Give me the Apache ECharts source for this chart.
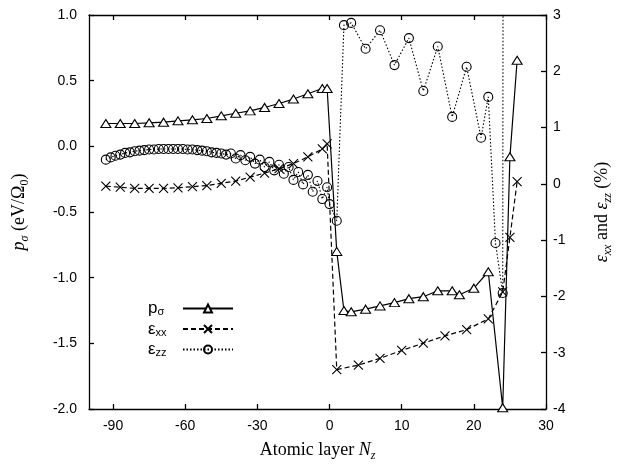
<!DOCTYPE html>
<html><head><meta charset="utf-8">
<script src="https://cdn.jsdelivr.net/npm/echarts@6/dist/echarts.min.js"></script>
<style>html,body{margin:0;padding:0;background:#fff}#c{width:623px;height:472px}</style>
</head><body><div id="c"></div>
<script>
// ---- data (atomic layer index, values) ----
const xTickLabels = [-90, -60, -30, 0, 10, 20, 30];

const pLayers = [-93,-87,-81,-75,-69,-63,-57,-51,-45,-39,-33,-27,-21,-15,-9,-3,-1,
                 1,2,3,5,7,9,11,13,15,17,18,20,22,24,25,26];
const pVals   = [0.174,0.174,0.174,0.179,0.184,0.194,0.202,0.212,0.232,0.252,0.27,0.296,0.326,0.36,0.40,0.44,0.44,
                 -0.80,-1.25,-1.26,-1.24,-1.215,-1.19,-1.16,-1.145,-1.10,-1.10,-1.13,-1.08,-0.955,-1.99,-0.08,0.655];

const xxLayers = [-93,-87,-81,-75,-69,-63,-57,-51,-45,-39,-33,-27,-21,-15,-9,-3,-1,
                  1,4,7,10,13,16,19,22,24,25,26];
const xxVals   = [-0.04,-0.06,-0.08,-0.08,-0.08,-0.07,-0.05,-0.03,0.01,0.05,0.12,0.19,0.27,0.36,0.48,0.62,0.71,
                  -3.30,-3.22,-3.10,-2.96,-2.83,-2.70,-2.59,-2.40,-1.92,-0.95,0.04];

const zzLayers = [-93,-91,-89,-87,-85,-83,-81,-79,-77,-75,-73,-71,-69,-67,-65,-63,-61,-59,-57,-55,-53,-51,-49,-47,
                  -45,-43,-41,-39,-37,-35,-33,-31,-29,-27,-25,-23,-21,-19,-17,-15,-13,-11,-9,-7,-5,-3,-1,0,
                  1,2,3,5,7,9,11,13,15,17,19,21,22,23,24,24.1];
const zzVals   = [0.43,0.47,0.50,0.52,0.55,0.56,0.58,0.59,0.60,0.61,0.61,0.62,0.62,0.62,0.62,0.62,0.62,0.61,0.61,0.60,0.59,0.58,0.56,0.55,
                  0.54,0.52,0.54,0.45,0.51,0.42,0.48,0.36,0.43,0.30,0.39,0.24,0.34,0.18,0.30,0.07,0.21,-0.01,0.16,-0.14,0.05,-0.27,-0.06,-0.36,
                  -0.655,2.82,2.86,2.40,2.73,2.11,2.59,1.65,2.44,1.19,2.08,0.82,1.545,-1.05,-1.94,10];

// broken x-scale: negative side compressed by 3
const toAxis = x => (x < 0 ? x / 3 : x);
const fromAxis = u => (u < 0 ? u * 3 : u);
const tickPos = xTickLabels.map(toAxis);

const pair = (ls, vs) => ls.map((l, i) => [toAxis(l), vs[i]]);

const chart = echarts.init(document.getElementById('c'), null, {renderer: 'canvas'});
const sans = 'Liberation Sans';
const serif = 'Liberation Serif';
const axisLineStyle = {color: '#000', width: 1.3};
const crossPath = 'path://M0,0L10,10M0,10L10,0';

const nameRich = {
  n: {fontFamily: serif, fontSize: 18, color: '#000', verticalAlign: 'middle', lineHeight: 23},
  i: {fontFamily: serif, fontSize: 18, fontStyle: 'italic', color: '#000', verticalAlign: 'middle', lineHeight: 23},
  s: {fontFamily: serif, fontSize: 12, fontStyle: 'italic', color: '#000', verticalAlign: 'bottom', lineHeight: 12},
  s0: {fontFamily: serif, fontSize: 12, color: '#000', verticalAlign: 'bottom', lineHeight: 12}
};
const legRich = {
  m: {fontFamily: sans, fontSize: 17, color: '#000', verticalAlign: 'middle', lineHeight: 18, align: 'left'},
  s: {fontFamily: sans, fontSize: 11, color: '#000', verticalAlign: 'bottom', lineHeight: 10, align: 'left'}
};
const legNames = {'pσ': '{m|p}{s|σ}', 'εxx': '{m|ε}{s|xx}', 'εzz': '{m|ε}{s|zz}'};

chart.setOption({
  animation: false,
  backgroundColor: '#fff',
  grid: {left: 89, right: 77, top: 15, bottom: 63},
  legend: {
    orient: 'vertical', left: 143, top: 295, align: 'right',
    itemWidth: 50, itemHeight: 10, itemGap: 3,
    data: ['pσ', 'εxx', 'εzz'],
    formatter: n => legNames[n],
    textStyle: {width: 30, rich: legRich}
  },
  xAxis: [{
    type: 'value', min: -100 / 3, max: 30, position: 'bottom',
    name: '{n|Atomic layer }{i|N}{s|z}', nameLocation: 'middle', nameGap: 30,
    nameTextStyle: {rich: nameRich},
    axisLine: {onZero: false, lineStyle: axisLineStyle},
    axisTick: {inside: true, length: 5, customValues: tickPos, lineStyle: {color: '#000', width: 1.3}},
    axisLabel: {customValues: tickPos, formatter: v => String(Math.round(fromAxis(v))), fontFamily: sans, fontSize: 14, color: '#000', margin: 10},
    splitLine: {show: false}
  }, {
    type: 'value', min: -100 / 3, max: 30, position: 'top',
    axisLine: {onZero: false, lineStyle: axisLineStyle},
    axisTick: {inside: true, length: 5, customValues: tickPos, lineStyle: {color: '#000', width: 1.3}},
    axisLabel: {show: false},
    splitLine: {show: false}
  }],
  yAxis: [{
    type: 'value', min: -2, max: 1, interval: 0.5, position: 'left',
    name: '{i|p}{s|σ}{n| (eV/Ω}{s0|0}{n|)}', nameLocation: 'middle', nameGap: 58, nameRotate: 90,
    nameTextStyle: {rich: nameRich},
    axisLine: {show: true, onZero: false, lineStyle: axisLineStyle},
    axisTick: {inside: true, length: 5, lineStyle: {color: '#000', width: 1.3}},
    axisLabel: {formatter: v => v.toFixed(1), fontFamily: sans, fontSize: 14, color: '#000', margin: 12},
    splitLine: {show: false}
  }, {
    type: 'value', min: -4, max: 3, interval: 1, position: 'right',
    name: '{i|ε}{s|xx}{n| and }{i|ε}{s|zz}{n| (%)}', nameLocation: 'middle', nameGap: 45, nameRotate: 90,
    nameTextStyle: {rich: nameRich},
    axisLine: {show: true, onZero: false, lineStyle: axisLineStyle},
    axisTick: {inside: true, length: 5, lineStyle: {color: '#000', width: 1.3}},
    axisLabel: {fontFamily: sans, fontSize: 14, color: '#000', margin: 7},
    splitLine: {show: false}
  }],
  series: [{
    name: 'pσ', type: 'line', xAxisIndex: 0, yAxisIndex: 0,
    data: pair(pLayers, pVals),
    symbol: 'triangle', symbolSize: [10, 8],
    itemStyle: {color: '#fff', borderColor: '#000', borderWidth: 1.1},
    lineStyle: {color: '#000', width: 1.2, type: 'solid'},
    z: 4
  }, {
    name: 'εxx', type: 'line', xAxisIndex: 0, yAxisIndex: 1,
    data: pair(xxLayers, xxVals),
    symbol: crossPath, symbolSize: 9,
    itemStyle: {color: 'rgba(0,0,0,0)', borderColor: '#000', borderWidth: 1.1},
    lineStyle: {color: '#000', width: 1.2, type: [5, 3]},
    z: 3
  }, {
    name: 'εzz', type: 'line', xAxisIndex: 0, yAxisIndex: 1,
    data: pair(zzLayers, zzVals),
    symbol: 'circle', symbolSize: 9,
    itemStyle: {color: 'rgba(0,0,0,0)', borderColor: '#000', borderWidth: 1.1},
    lineStyle: {color: '#000', width: 1.1, type: [1.5, 2]},
    clip: true,
    z: 2
  }]
});
</script>
</body></html>
